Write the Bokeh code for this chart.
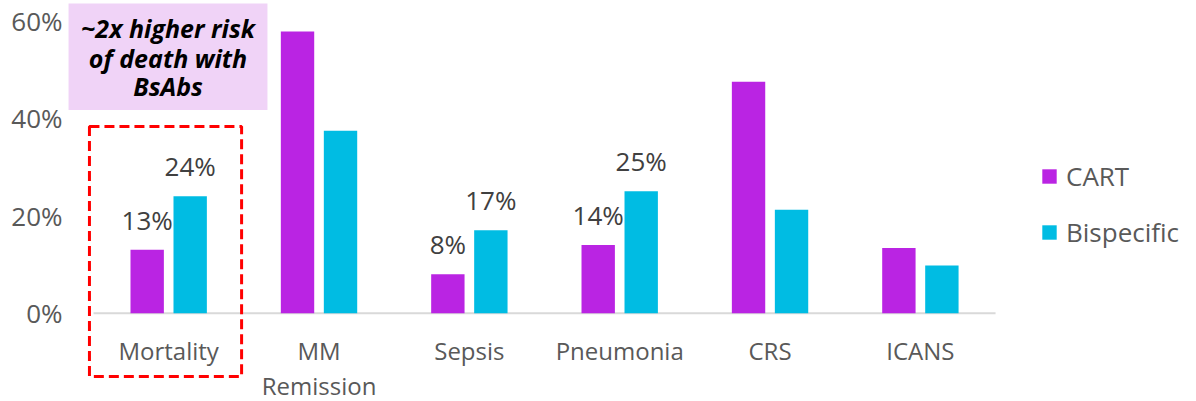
from bokeh.plotting import figure
from bokeh.models import (Range1d, FixedTicker, PrintfTickFormatter, BoxAnnotation,
                          Label, Legend, LegendItem, ColumnDataSource)
from bokeh.core.properties import value
from bokeh.embed import file_html
from bokeh.resources import INLINE

# Outcome categories and rates (%) for each therapy
categories = ["Mortality", "MM\nRemission", "Sepsis", "Pneumonia", "CRS", "ICANS"]
cart = [13, 57.8, 8, 14, 47.5, 13.4]
bispecific = [24, 37.4, 17, 25, 21.2, 9.8]
show_value = [True, False, True, True, False, False]
y_ticks = [0, 20, 40, 60]

FONT = "Open Sans"
PURPLE = "#BA24E3"
CYAN = "#00BCE3"
GREY = "#595959"

centers = [i + 0.5 for i in range(len(categories))]
offset = 0.143
bar_w = 0.222

# frame: x from 65px to right edge, y covering the full height
p = figure(width=1196, height=401, output_backend="svg", toolbar_location=None,
           x_range=Range1d(-0.1863, 7.3366), y_range=Range1d(-18.11, 64.14),
           min_border_left=65, min_border_right=0, min_border_top=0, min_border_bottom=0)
p.outline_line_color = None
p.xgrid.visible = False
p.ygrid.visible = False
p.xaxis.visible = False
p.background_fill_color = "white"
p.border_fill_color = "white"

# callout boxes
p.add_layout(BoxAnnotation(left=-0.166, right=1.157, top=63.5, bottom=41.7,
                           fill_color="#F0D3F7", fill_alpha=1, line_color=None, level="underlay"))
p.add_layout(BoxAnnotation(left=-0.027, right=0.985, top=38.3, bottom=-13.0,
                           fill_alpha=0, line_color="#FF0000", line_alpha=1,
                           line_width=3, line_dash="10 5"))

# baseline
p.segment(x0=[0], y0=[0], x1=[len(categories)], y1=[0], line_color="#D9D9D9", line_width=2)

src = ColumnDataSource(dict(
    xc=[c - offset for c in centers], xb=[c + offset for c in centers],
    cart=cart, bisp=bispecific))
r1 = p.vbar(x="xc", top="cart", width=bar_w, source=src, fill_color=PURPLE, line_color=None)
r2 = p.vbar(x="xb", top="bisp", width=bar_w, source=src, fill_color=CYAN, line_color=None)

# value labels
lx, ly, lt = [], [], []
for c, a, b, s in zip(centers, cart, bispecific, show_value):
    if s:
        lx += [c - offset, c + offset]
        ly += [a, b]
        lt += [f"{a:.0f}%", f"{b:.0f}%"]
p.text(x=lx, y=ly, text=lt, text_align="center", text_baseline="alphabetic", y_offset=-30,
       text_font=value(FONT), text_font_size="26px", text_color="#404040")

# category labels under the baseline
p.text(x=centers, y=[0] * len(centers), text=categories, text_align="center",
       text_baseline="top", y_offset=21, text_line_height=1.05,
       text_font=value(FONT), text_font_size="24px", text_color=GREY)

# callout text
for txt, yy in [("~2x higher risk", 58.4), ("of death with", 52.3), ("BsAbs", 46.7)]:
    p.add_layout(Label(x=0.4956, y=yy, text=txt, text_align="center", text_baseline="middle",
                       text_font=FONT, text_font_style="bold italic", text_font_size="25px",
                       text_color="black"))

ya = p.yaxis[0]
ya.ticker = FixedTicker(ticks=y_ticks)
ya.formatter = PrintfTickFormatter(format="%d%%")
ya.axis_line_color = None
ya.major_tick_line_color = None
ya.minor_tick_line_color = None
ya.major_tick_out = 0
ya.major_label_standoff = 3
ya.major_label_text_font = FONT
ya.major_label_text_font_size = "26px"
ya.major_label_text_color = GREY

legend = Legend(items=[LegendItem(label="CART", renderers=[r1]),
                       LegendItem(label="Bispecific", renderers=[r2])],
                location=(975, 151), glyph_width=18, glyph_height=18, label_height=30,
                spacing=20, padding=0, margin=0, label_standoff=8,
                label_text_font=FONT, label_text_font_size="26px", label_text_color=GREY,
                border_line_alpha=0, background_fill_alpha=0)
p.add_layout(legend)

open("out.html", "w").write(file_html(p, INLINE))
